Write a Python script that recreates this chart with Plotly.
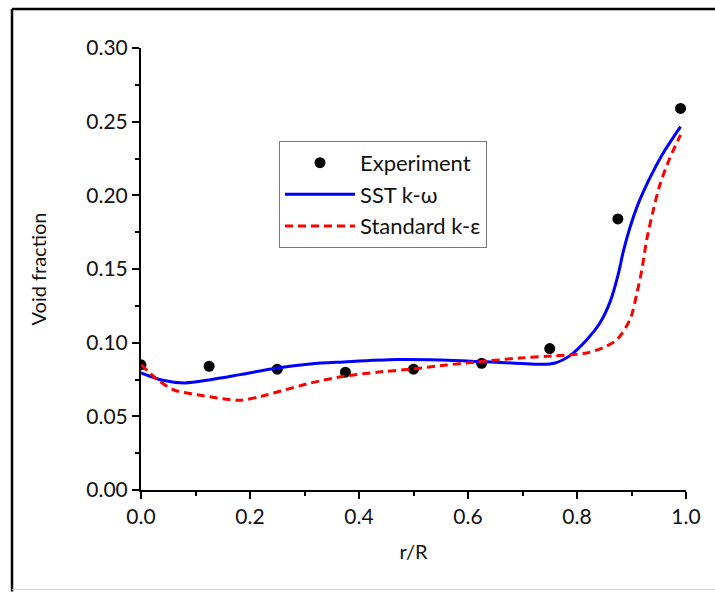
import plotly.graph_objects as go

# Measured void fraction across the pipe radius
exp_r = [0.0, 0.125, 0.25, 0.375, 0.5, 0.625, 0.75, 0.875, 0.99]
exp_alpha = [0.085, 0.084, 0.082, 0.080, 0.082, 0.086, 0.096, 0.184, 0.259]

# SST k-omega prediction
sst_r = [0.0, 0.04, 0.08, 0.13, 0.182, 0.25, 0.31, 0.372, 0.47, 0.55, 0.616, 0.68,
         0.73, 0.76, 0.787, 0.818, 0.842, 0.861, 0.876, 0.885, 0.897, 0.912, 0.928,
         0.943, 0.958, 0.99]
sst_alpha = [0.0795, 0.0745, 0.0727, 0.075, 0.0783, 0.0828, 0.0855, 0.0869, 0.0885,
             0.0882, 0.0873, 0.0862, 0.0853, 0.0862, 0.0912, 0.102, 0.1133, 0.128,
             0.147, 0.162, 0.178, 0.194, 0.2075, 0.2185, 0.2286, 0.2466]

# Standard k-epsilon prediction
ke_r = [0.0, 0.03, 0.06, 0.103, 0.15, 0.182, 0.22, 0.255, 0.31, 0.372, 0.44, 0.50,
        0.56, 0.616, 0.696, 0.756, 0.818, 0.85, 0.873, 0.897, 0.91, 0.919, 0.928,
        0.94, 0.952, 0.97, 0.99]
ke_alpha = [0.085, 0.075, 0.068, 0.0647, 0.062, 0.0609, 0.0635, 0.067, 0.0725,
            0.0772, 0.0802, 0.0822, 0.0848, 0.0869, 0.0896, 0.091, 0.093, 0.097,
            0.102, 0.1156, 0.1337, 0.1495, 0.170, 0.190, 0.207, 0.225, 0.241]

FONT = "Lato, 'Open Sans', sans-serif"
W, H = 715, 592
ML, MR, MT, MB = 141, 29, 48, 101.5
PW, PH = W - ML - MR, H - MT - MB


def px_x(px):
    return (px - ML) / PW


def px_y(py):
    return (H - MB - py) / PH


fig = go.Figure()
fig.add_trace(go.Scatter(
    x=exp_r, y=exp_alpha, mode="markers", name="Experiment",
    legendgroup="a",
    marker=dict(color="black", size=11),
))
fig.add_trace(go.Scatter(
    x=sst_r, y=sst_alpha, mode="lines", name="SST k-ω",
    legendgroup="b",
    line=dict(color="#0000ff", width=3, shape="spline", smoothing=1.0),
))
fig.add_trace(go.Scatter(
    x=ke_r, y=ke_alpha, mode="lines", name="Standard k-ε",
    legendgroup="c",
    line=dict(color="#ff0000", width=3, dash="8px,5px", shape="spline", smoothing=0.9),
))

axis_common = dict(
    showline=True, linecolor="black", linewidth=2,
    ticks="outside", ticklen=7, tickwidth=1.5, tickcolor="black",
    showgrid=False, zeroline=False, mirror=False,
    tickfont=dict(family=FONT, size=21, color="#111"),
)

fig.update_xaxes(
    range=[0, 1], tick0=0, dtick=0.2, tickformat=".1f",
    minor=dict(ticks="outside", ticklen=4, dtick=0.1, tickcolor="black", tickwidth=1.5),
    title=dict(text="r/R", font=dict(family=FONT, size=20, color="#111"), standoff=18),
    **axis_common,
)
fig.update_yaxes(
    range=[0, 0.30], tick0=0, dtick=0.05, tickformat=".2f",
    minor=dict(ticks="outside", ticklen=4, dtick=0.025, tickcolor="black", tickwidth=1.5),
    title=dict(text="Void fraction", font=dict(family=FONT, size=20, color="#111"), standoff=34),
    **axis_common,
)

# outer frame around the figure
frame = [
    dict(x0=px_x(12), x1=px_x(12), y0=px_y(9), y1=px_y(592), color="black", width=2.5),
    dict(x0=px_x(12), x1=px_x(715), y0=px_y(9), y1=px_y(9), color="black", width=2.5),
    dict(x0=px_x(12), x1=px_x(715), y0=px_y(590), y1=px_y(590), color="#cccccc", width=1),
]
for f in frame:
    fig.add_shape(type="line", xref="paper", yref="paper",
                  x0=f["x0"], x1=f["x1"], y0=f["y0"], y1=f["y1"],
                  line=dict(color=f["color"], width=f["width"]), layer="above")

fig.update_layout(
    width=W, height=H,
    margin=dict(l=ML, r=MR, t=MT, b=MB),
    paper_bgcolor="white", plot_bgcolor="white",
    font=dict(family=FONT, size=21, color="#111"),
    legend=dict(
        x=px_x(279), y=px_y(141), xanchor="left", yanchor="top",
        bordercolor="#777", borderwidth=1, bgcolor="white",
        font=dict(family=FONT, size=22, color="#111"),
        itemwidth=70, tracegroupgap=0, traceorder="grouped",
    ),
    showlegend=True,
)

fig.write_html("out.html")
